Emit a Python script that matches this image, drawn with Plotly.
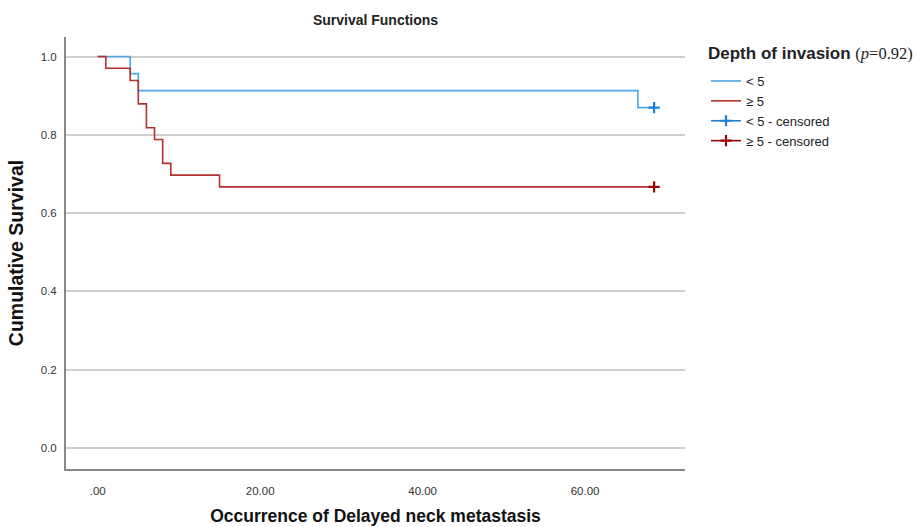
import plotly.graph_objects as go

# Data
time_lt5 = [0, 4, 5, 66.5, 68.5]
surv_lt5 = [1.0, 0.9565, 0.9130, 0.8696, 0.8696]
time_ge5 = [0, 1, 4, 5, 6, 7, 8, 9, 15, 68.5]
surv_ge5 = [1.0, 0.970, 0.939, 0.879, 0.818, 0.788, 0.727, 0.697, 0.667, 0.667]
cens_lt5_t = [68.5]
cens_lt5_s = [0.8696]
cens_ge5_t = [68.5]
cens_ge5_s = [0.667]
x_ticks = [0, 20, 40, 60]
x_tick_labels = [".00", "20.00", "40.00", "60.00"]
y_ticks = [0.0, 0.2, 0.4, 0.6, 0.8, 1.0]
y_tick_labels = ["0.0", "0.2", "0.4", "0.6", "0.8", "1.0"]

BLUE = "#4fa6ea"
BLUE_C = "#1f7fd6"
RED = "#b3302c"
RED_C = "#990808"

W, H = 919, 527
ML, MR, MT, MB = 66, 234, 37, 58
PW, PH = W - ML - MR, H - MT - MB

fig = go.Figure()
fig.add_trace(go.Scatter(x=time_lt5, y=surv_lt5, mode="lines", line_shape="hv",
                         line=dict(color=BLUE, width=1.6), name="< 5"))
fig.add_trace(go.Scatter(x=time_ge5, y=surv_ge5, mode="lines", line_shape="hv",
                         line=dict(color=RED, width=1.6), name="≥ 5"))
fig.add_trace(go.Scatter(x=cens_lt5_t, y=cens_lt5_s, mode="lines+markers",
                         line=dict(color=BLUE_C, width=1.6),
                         marker=dict(symbol="cross-thin", size=8,
                                     line=dict(color=BLUE_C, width=2.2)),
                         name="< 5 - censored"))
fig.add_trace(go.Scatter(x=cens_ge5_t, y=cens_ge5_s, mode="lines+markers",
                         line=dict(color=RED_C, width=1.6),
                         marker=dict(symbol="cross-thin", size=8,
                                     line=dict(color=RED_C, width=2.2)),
                         name="≥ 5 - censored"))

fig.add_annotation(
    xref="paper", yref="paper",
    x=(706 - ML) / PW, y=(H - MB - 53) / PH, xanchor="left", yanchor="middle",
    showarrow=False,
    text="<b>Depth of invasion</b> <span style='font-family:Liberation Serif, Times New Roman, serif;font-size:16.5px'>(<i>p</i>=0.92)</span>",
    font=dict(size=17, color="#222"),
)

fig.update_layout(
    width=W, height=H,
    margin=dict(l=ML, r=MR, t=MT, b=MB),
    paper_bgcolor="white", plot_bgcolor="white",
    font=dict(family="Liberation Sans, Arial, sans-serif", color="#222"),
    title=dict(text="<b>Survival Functions</b>", xref="paper", x=0.5, xanchor="center",
               y=1 - 20 / H, yanchor="middle",
               font=dict(size=14, color="#222")),
    showlegend=True,
    legend=dict(
        x=(706 - ML) / PW, y=(H - MB - 66) / PH, xanchor="left", yanchor="top",
        font=dict(size=13, color="#222"),
        bgcolor="rgba(0,0,0,0)", itemwidth=30,
    ),
    xaxis=dict(
        range=[-3.9, 72.3], tickvals=x_ticks, ticktext=x_tick_labels,
        showgrid=False, zeroline=False, showline=True, linecolor="#888", linewidth=2,
        ticks="", ticklabelstandoff=10, tickfont=dict(size=11.5, color="#333"),
        automargin=False,
        title=dict(text="<b>Occurrence of Delayed neck metastasis</b>",
                   font=dict(size=17.5, color="#111"), standoff=14),
    ),
    yaxis=dict(
        range=[-0.054, 1.05], tickvals=y_ticks, ticktext=y_tick_labels,
        showgrid=True, gridcolor="#cfcfcf", gridwidth=1.6, zeroline=False,
        showline=True, linecolor="#888", linewidth=2,
        ticks="", ticklabelstandoff=5, tickfont=dict(size=11.5, color="#333"),
        automargin=False,
        title=dict(text="<b>Cumulative Survival</b>", font=dict(size=19.5, color="#111"),
                   standoff=12),
    ),
)

fig.write_html("out.html", config={"displayModeBar": False},
               post_script="document.body.style.margin='0';")
